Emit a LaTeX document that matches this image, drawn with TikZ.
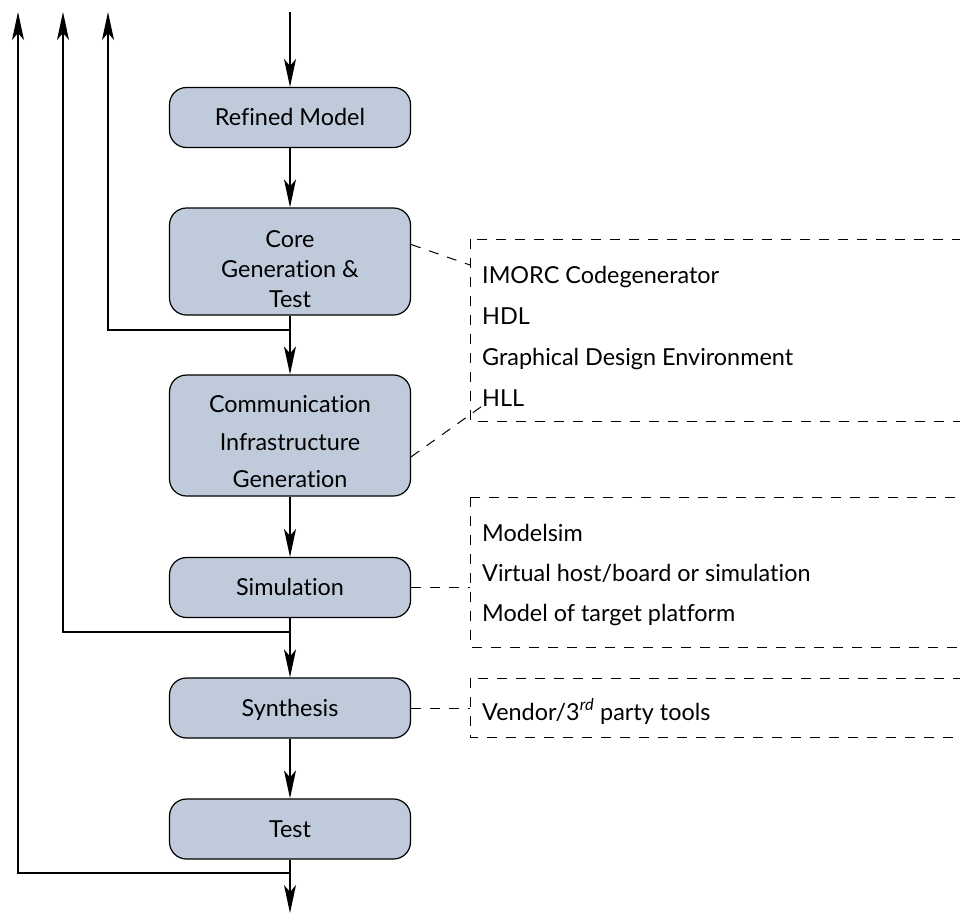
\documentclass[tikz,border=0pt]{standalone}
\usepackage{fontspec}
\setmainfont{Lato}[Ligatures=NoCommon]
\usetikzlibrary{arrows.meta,calc}
\definecolor{stagefill}{RGB}{191,202,219}
\begin{document}
\begin{tikzpicture}[x=1pt,y=-1pt,
  txt/.style={font=\fontsize{23.4}{28}\selectfont},
  flow/.style={line width=1.2pt,-{Stealth[length=28pt,width=12pt,inset=7pt]}},
  stage/.style={draw,line width=1.2pt,fill=stagefill,rounded corners=17pt,
    minimum width=241pt,minimum height=60pt,inner sep=0pt,txt,
    text height=16.8pt,text depth=0pt},
  stageline/.style={txt,anchor=base,inner sep=0pt},
  toolbox/.style={draw,line width=1pt,dash pattern=on 10pt off 9pt},
  tool/.style={txt,anchor=base west,inner sep=0pt},
  link/.style={line width=1pt,dash pattern=on 10pt off 9pt}]
\clip (0,0) rectangle (960,913);

% design flow stages
\node[stage] (refined) at (290,117.5) {Refined Model};
\node[stage,minimum height=107pt] (core) at (290,261.5) {};
\node[stageline] (core-a) at (290,247) {Core};
\node[stageline] (core-b) at (290,277) {Generation \&};
\node[stageline] (core-c) at (290,307) {Test};
\node[stage,minimum height=121pt] (comm) at (290,435.5) {};
\node[stageline] (comm-a) at (290,412) {Communication};
\node[stageline] (comm-b) at (290,450) {Infrastructure};
\node[stageline] (comm-c) at (290,487) {Generation};
\node[stage] (sim) at (290,587.5) {Simulation};
\node[stage] (synth) at (290,708) {Synthesis};
\node[stage] (test) at (290,829) {Test};

% flow arrows
\coordinate (in) at (290,12);
\coordinate (out) at (290,913);
\draw[flow] (in) -- (refined.north);
\draw[flow] (refined) -- (core);
\draw[flow] (core) -- (comm);
\draw[flow] (comm) -- (sim);
\draw[flow] (sim) -- (synth);
\draw[flow] (synth) -- (test);
\draw[flow] (test.south) -- (out);

% feedback paths
\coordinate (j1) at (290,330);
\coordinate (j2) at (290,632);
\coordinate (j3) at (290,873);
\coordinate (up1) at (108,12);
\coordinate (up2) at (63,12);
\coordinate (up3) at (18,12);
\draw[flow] (j1) -| (up1);
\draw[flow] (j2) -| (up2);
\draw[flow] (j3) -| (up3);

% tool boxes
\draw[toolbox] (470,239) rectangle (990,421);
\node[tool] (t-imorc) at (482,283) {IMORC Codegenerator};
\node[tool] (t-hdl) at (482,324) {HDL};
\node[tool] (t-gde) at (482,365) {Graphical Design Environment};
\node[tool] (t-hll) at (482,406) {HLL};

\draw[toolbox] (470,497) rectangle (990,647);
\node[tool] (t-msim) at (482,541) {Modelsim};
\node[tool] (t-virt) at (482,581) {Virtual host/board or simulation};
\node[tool] (t-model) at (482,621) {Model of target platform};

\draw[toolbox] (470,678) rectangle (990,737);
\node[tool] (t-vendor) at (482,720) {Vendor/3\textsuperscript{\itshape rd} party tools};

% links from stages to their tools
\coordinate (c1) at (470,265);
\coordinate (c2) at (485,404);
\coordinate (c3) at (470,587.5);
\coordinate (c4) at (470,708);
\draw[link] (core.8) -- (c1);
\draw[link] (comm.-10.6) -- (c2);
\draw[link] (sim.east) -- (c3);
\draw[link] (synth.east) -- (c4);
\end{tikzpicture}
\end{document}
